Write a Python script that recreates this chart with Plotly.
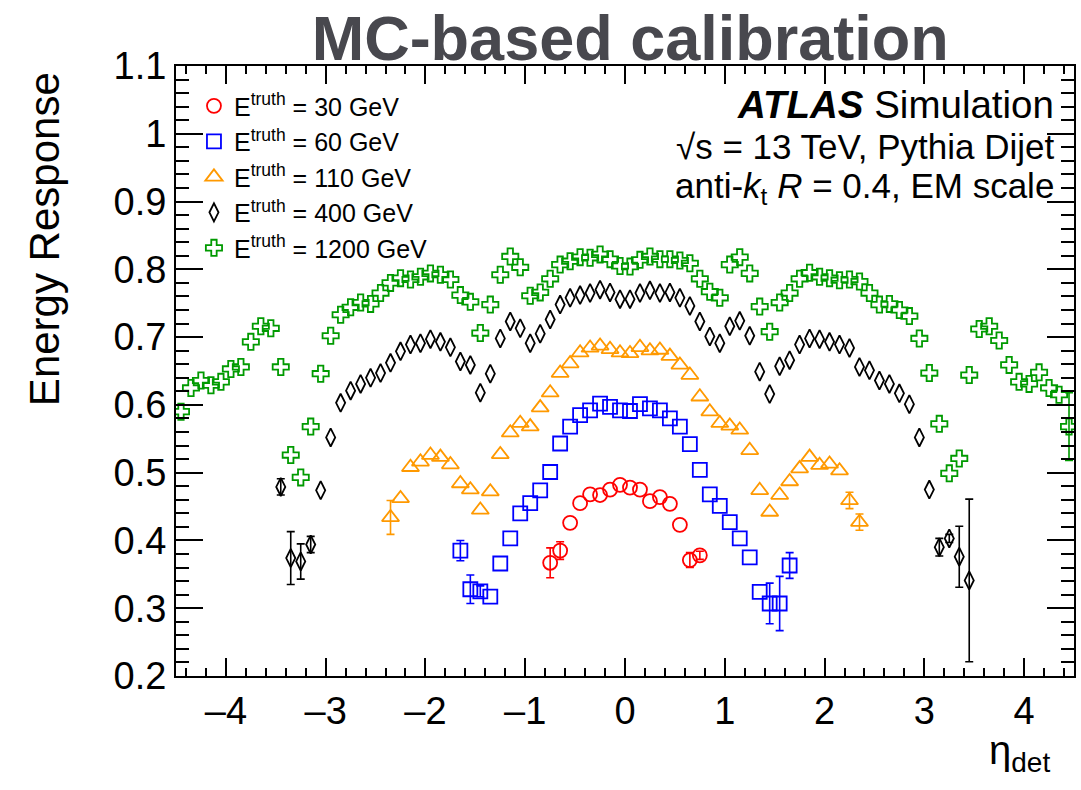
import plotly.graph_objects as go

# Jet energy response vs detector pseudorapidity, one series per truth energy.
ETA_BINS = [
    -4.45, -4.35, -4.25, -4.15, -4.05, -3.95, -3.85, -3.75, -3.65, -3.55,
    -3.45, -3.35, -3.25, -3.15, -3.05, -2.95, -2.85, -2.75, -2.65, -2.55,
    -2.45, -2.35, -2.25, -2.15, -2.05, -1.95, -1.85, -1.75, -1.65, -1.55,
    -1.45, -1.35, -1.25, -1.15, -1.05, -0.95, -0.85, -0.75, -0.65, -0.55,
    -0.45, -0.35, -0.25, -0.15, -0.05, 0.05, 0.15, 0.25, 0.35, 0.45,
    0.55, 0.65, 0.75, 0.85, 0.95, 1.05, 1.15, 1.25, 1.35, 1.45,
    1.55, 1.65, 1.75, 1.85, 1.95, 2.05, 2.15, 2.25, 2.35, 2.45,
    2.55, 2.65, 2.75, 2.85, 2.95, 3.05, 3.15, 3.25, 3.35, 3.45,
    3.55, 3.65, 3.75, 3.85, 3.95, 4.05, 4.15, 4.25, 4.35, 4.45,
]

# E_truth = 30 GeV, |eta| < 0.8
RESP_30 = [0.367, 0.385, 0.426, 0.455, 0.468, 0.467, 0.475, 0.482,
           0.478, 0.475, 0.458, 0.464, 0.454, 0.423, 0.371, 0.378]
ERR_30 = {-0.75: 0.022, -0.65: 0.013, 0.65: 0.011, 0.75: 0.006}

# E_truth = 60 GeV, |eta| < 1.7
RESP_60 = [0.385, 0.328, 0.325, 0.317, 0.366, 0.403, 0.440, 0.455, 0.474, 0.501,
           0.543, 0.568, 0.585, 0.592, 0.602, 0.597, 0.592, 0.591, 0.601, 0.595,
           0.592, 0.580, 0.568, 0.542, 0.504, 0.468, 0.451, 0.427, 0.403, 0.375,
           0.324, 0.307, 0.307, 0.363]
ERR_60 = {-1.65: 0.015, -1.55: 0.021, -1.45: 0.008, 1.45: 0.030, 1.55: 0.040, 1.65: 0.019}

# E_truth = 110 GeV, |eta| < 2.4
RESP_110 = [0.434, 0.462, 0.508, 0.516, 0.526, 0.523, 0.512, 0.484, 0.475, 0.445,
            0.472, 0.527, 0.559, 0.573, 0.568, 0.596, 0.618, 0.647, 0.661, 0.677,
            0.684, 0.687, 0.682, 0.677, 0.676, 0.685, 0.680, 0.681, 0.672, 0.659,
            0.644, 0.612, 0.590, 0.573, 0.569, 0.563, 0.533, 0.474, 0.442, 0.467,
            0.487, 0.506, 0.523, 0.511, 0.513, 0.503, 0.459, 0.427]
ERR_110 = {-2.35: 0.025, 2.25: 0.012, 2.35: 0.012}

# E_truth = 400 GeV, |eta| < 3.5
RESP_400 = [0.479, 0.374, 0.369, 0.394, 0.474, 0.552, 0.603, 0.621, 0.631, 0.640,
            0.647, 0.662, 0.679, 0.689, 0.691, 0.697, 0.693, 0.685, 0.664, 0.659,
            0.618, 0.646, 0.698, 0.723, 0.713, 0.691, 0.705, 0.726, 0.748, 0.758,
            0.762, 0.765, 0.770, 0.766, 0.756, 0.756, 0.765, 0.769, 0.765, 0.766,
            0.758, 0.746, 0.723, 0.701, 0.691, 0.716, 0.724, 0.702, 0.649, 0.616,
            0.657, 0.666, 0.689, 0.698, 0.697, 0.693, 0.689, 0.684, 0.656, 0.651,
            0.636, 0.631, 0.617, 0.601, 0.552, 0.475, 0.390, 0.403, 0.376, 0.341]
ERR_400 = {-3.45: 0.012, -3.35: 0.039, -3.25: 0.026, -3.15: 0.012,
           3.15: 0.013, 3.25: 0.006, 3.35: 0.045, 3.45: 0.120}

# E_truth = 1200 GeV, full range
RESP_1200 = [0.590, 0.625, 0.636, 0.629, 0.634, 0.653, 0.656, 0.693, 0.716, 0.713,
             0.656, 0.526, 0.493, 0.568, 0.646, 0.702, 0.733, 0.744, 0.751, 0.749,
             0.765, 0.780, 0.787, 0.785, 0.789, 0.794, 0.792, 0.785, 0.762, 0.752,
             0.706, 0.748, 0.792, 0.819, 0.803, 0.761, 0.766, 0.786, 0.807, 0.812,
             0.818, 0.817, 0.822, 0.815, 0.805, 0.804, 0.814, 0.819, 0.815, 0.815,
             0.813, 0.809, 0.786, 0.767, 0.758, 0.807, 0.818, 0.794, 0.745, 0.708,
             0.751, 0.765, 0.786, 0.795, 0.789, 0.787, 0.784, 0.785, 0.782, 0.765,
             0.748, 0.749, 0.740, 0.731, 0.698, 0.647, 0.572, 0.499, 0.521, 0.644,
             0.712, 0.716, 0.695, 0.659, 0.634, 0.631, 0.648, 0.625, 0.615, 0.568]
ERR_1200 = {4.45: 0.050}

LABELS = ["E<sup>truth</sup> = 30 GeV", "E<sup>truth</sup> = 60 GeV",
          "E<sup>truth</sup> = 110 GeV", "E<sup>truth</sup> = 400 GeV",
          "E<sup>truth</sup> = 1200 GeV"]

X_TICKS = [-4, -3, -2, -1, 0, 1, 2, 3, 4]
X_TICK_TEXT = ["\u20134", "\u20133", "\u20132", "\u20131", "0", "1", "2", "3", "4"]
Y_TICKS = [0.2, 0.3, 0.4, 0.5, 0.6, 0.7, 0.8, 0.9, 1.0, 1.1]
Y_TICK_TEXT = ["0.2", "0.3", "0.4", "0.5", "0.6", "0.7", "0.8", "0.9", "1", "1.1"]


def bins_within(limit):
    return [e for e in ETA_BINS if abs(e) < limit]


SERIES = [
    (LABELS[0], "#ff0000", "circle-open", 14, bins_within(0.8), RESP_30, ERR_30),
    (LABELS[1], "#0000ff", "square-open", 14, bins_within(1.7), RESP_60, ERR_60),
    (LABELS[2], "#ff9900", "triangle-up-open", 15, bins_within(2.4), RESP_110, ERR_110),
    (LABELS[3], "#000000", "diamond-tall-open", 13, bins_within(3.5), RESP_400, ERR_400),
    (LABELS[4], "#009a00", "cross-open", 13.5, list(ETA_BINS), RESP_1200, ERR_1200),
]

FONT = "Liberation Sans, Arial, Helvetica, sans-serif"

fig = go.Figure()

# statistical error bars (only where they reach beyond the marker)
for name, color, symbol, size, etas, vals, errs in SERIES:
    ex = [e for e in etas if e in errs]
    ey = [v for e, v in zip(etas, vals) if e in errs]
    ee = [errs[e] for e in ex]
    fig.add_trace(go.Scatter(
        x=ex, y=ey, mode="markers", showlegend=False, hoverinfo="skip",
        marker=dict(size=2, opacity=0),
        error_y=dict(type="data", array=ee, visible=True, color=color,
                     thickness=1.6, width=4),
    ))

for name, color, symbol, size, etas, vals, errs in SERIES:
    fig.add_trace(go.Scatter(
        x=etas, y=vals, mode="markers", name=name, legendgroup=name,
        marker=dict(symbol=symbol, size=size, color=color,
                    line=dict(color=color, width=1.8)),
    ))

axis_common = dict(
    showline=True, linecolor="black", linewidth=2, mirror="ticks",
    ticks="inside", tickcolor="black", tickwidth=1.5,
    showgrid=False, zeroline=False,
    tickfont=dict(size=38, family=FONT, color="black"),
)

fig.update_layout(
    width=1081, height=790,
    margin=dict(l=176, r=5, t=66, b=114),
    paper_bgcolor="white", plot_bgcolor="white",
    font=dict(family=FONT, color="black"),
    title=dict(text="<b>MC-based calibration</b>", x=0.583, xanchor="center",
               y=0.952, yanchor="middle",
               font=dict(size=63, color="#48484e", family=FONT)),
    xaxis=dict(range=[-4.5, 4.5], tickvals=X_TICKS, ticktext=X_TICK_TEXT,
               ticklen=18,
               minor=dict(tickmode="linear", tick0=0, dtick=0.2, ticks="inside",
                          ticklen=8, tickwidth=1.5, tickcolor="black", showgrid=False),
               **axis_common),
    yaxis=dict(range=[0.2, 1.1], tickvals=Y_TICKS, ticktext=Y_TICK_TEXT,
               ticklen=27,
               minor=dict(tickmode="linear", tick0=0.2, dtick=0.02, ticks="inside",
                          ticklen=13, tickwidth=1.5, tickcolor="black", showgrid=False),
               **axis_common),
    legend=dict(x=0.02, y=0.972, xanchor="left", yanchor="top",
                bgcolor="rgba(0,0,0,0)", font=dict(size=25, family=FONT),
                tracegroupgap=0, itemwidth=30),
    annotations=[
        dict(text="<b><i>ATLAS</i></b> Simulation", xref="paper", yref="paper",
             x=0.9795, y=0.9369, xanchor="right", yanchor="middle", showarrow=False,
             font=dict(size=38.5, family=FONT)),
        dict(text="\u221as = 13 TeV, Pythia Dijet", xref="paper", yref="paper",
             x=0.9795, y=0.8681, xanchor="right", yanchor="middle", showarrow=False,
             font=dict(size=35, family=FONT)),
        dict(text="anti-<i>k</i><sub>t</sub> <i>R</i> = 0.4, EM scale",
             xref="paper", yref="paper",
             x=0.9795, y=0.7993, xanchor="right", yanchor="middle", showarrow=False,
             font=dict(size=35, family=FONT)),
        dict(text="Energy Response", xref="paper", yref="paper",
             x=-0.1456, y=0.7166, xanchor="center", yanchor="middle",
             textangle=-90, showarrow=False, font=dict(size=42, family=FONT)),
        dict(text="\u03b7<sub>det</sub>", xref="paper", yref="paper",
             x=0.975, y=-0.127, xanchor="right", yanchor="middle",
             showarrow=False, font=dict(size=40, family=FONT)),
    ],
)

fig.write_html("out.html", post_script="document.body.style.margin='0';")
